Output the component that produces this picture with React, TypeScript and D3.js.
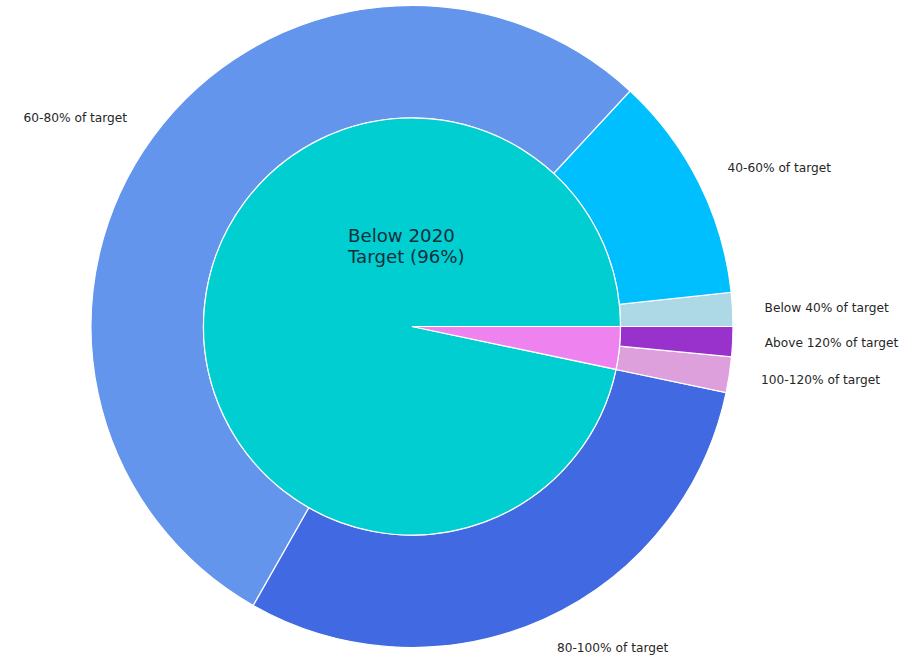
import React from "react";
import * as d3 from "d3";

const outerCategories = [
  "Below 40% of target",
  "40-60% of target",
  "60-80% of target",
  "80-100% of target",
  "100-120% of target",
  "Above 120% of target",
];
const outerValues = [1.7, 11.4, 53.6, 29.9, 1.8, 1.5];
const outerColors = ["#ADD8E6", "#00BFFF", "#6495ED", "#4169E1", "#DDA0DD", "#9932CC"];

const innerCategories = ["Below 2020 Target (96%)", "Above 2020 Target"];
const innerValues = [96.7, 3.3];
const innerColors = ["#00CED1", "#EE82EE"];

const W = 918;
const H = 657;
const cx = 412;
const cy = 326.5;
const R = 321;
const r = 208.5;

export default function App() {
  const pie = d3
    .pie<number>()
    .sort(null)
    .startAngle(Math.PI / 2)
    .endAngle(Math.PI / 2 - 2 * Math.PI);
  const outerArcs = pie(outerValues);
  const innerArcs = pie(innerValues);
  const outerArc = d3.arc<d3.PieArcDatum<number>>().innerRadius(r).outerRadius(R);
  const innerArc = d3.arc<d3.PieArcDatum<number>>().innerRadius(0).outerRadius(r);
  const font = "'DejaVu Sans', sans-serif";

  return (
    <svg
      width={W}
      height={H}
      style={{ position: "absolute", left: 0, top: 0, background: "#fff" }}
    >
      <g transform={`translate(${cx},${cy})`}>
        {outerArcs.map((a, i) => (
          <path
            key={"o" + i}
            d={outerArc(a) || ""}
            fill={outerColors[i]}
            stroke="#fff"
            strokeWidth={1.2}
          />
        ))}
        {innerArcs.map((a, i) => (
          <path
            key={"i" + i}
            d={innerArc(a) || ""}
            fill={innerColors[i]}
            stroke="#fff"
            strokeWidth={1.2}
          />
        ))}
        {outerArcs.map((a, i) => {
          const m = (a.startAngle + a.endAngle) / 2;
          const x = 1.1 * R * Math.sin(m);
          const y = -1.1 * R * Math.cos(m);
          return (
            <text
              key={"l" + i}
              x={x}
              y={y}
              textAnchor={x > 0 ? "start" : "end"}
              dominantBaseline="central"
              fontFamily={font}
              fontSize={12.2}
              fill="#262626"
            >
              {outerCategories[i]}
            </text>
          );
        })}
      </g>
      <text x={348} y={242} fontFamily={font} fontSize={18.2} fill="#12303a">
        <tspan x={348}>Below 2020</tspan>
        <tspan x={348} dy={20.5}>Target (96%)</tspan>
      </text>
    </svg>
  );
}
